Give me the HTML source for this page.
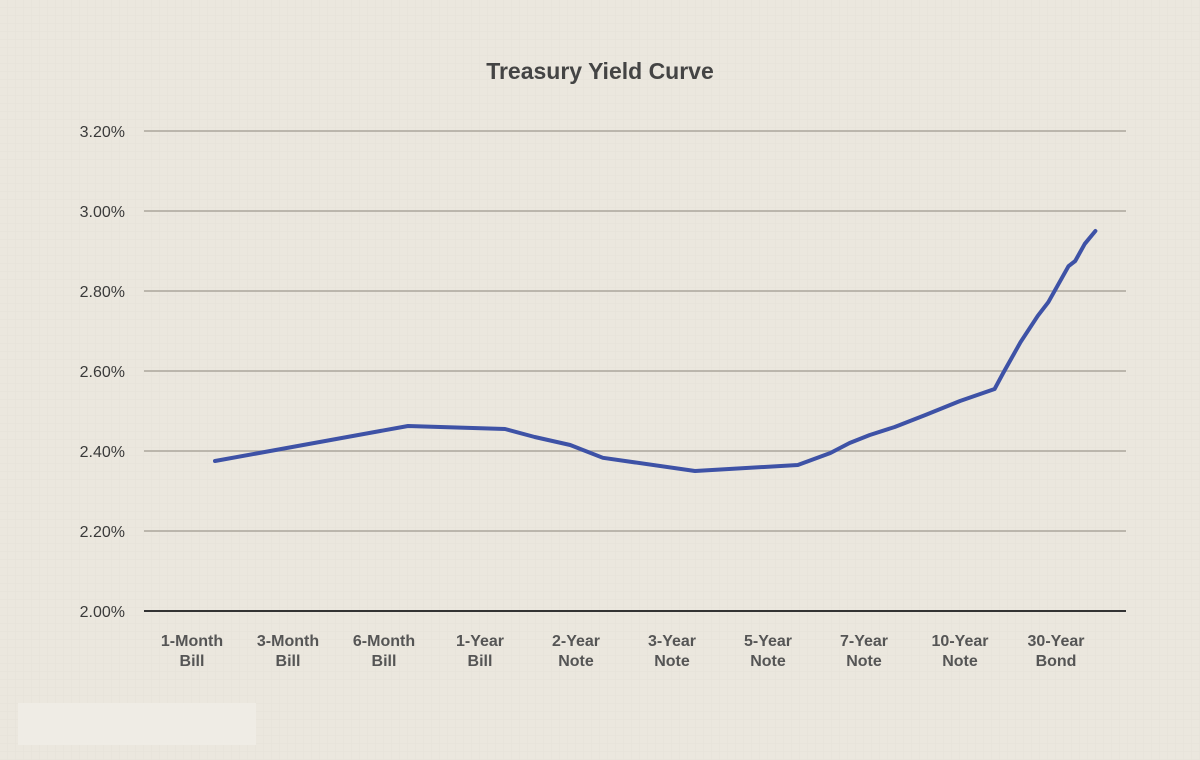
<!DOCTYPE html>
<html><head><meta charset="utf-8"><style>
body{margin:0;width:1200px;height:760px;overflow:hidden;background:#ebe7de;font-family:"Liberation Sans",sans-serif;}
svg{display:block}
</style></head><body>
<svg width="1200" height="760">
<defs><pattern id="p" width="8" height="8" patternUnits="userSpaceOnUse"><path d="M8 0V8H0" fill="none" stroke="#e2ded4" stroke-width="1"/></pattern></defs>
<rect width="1200" height="760" fill="#ebe7de"/>
<rect width="1200" height="760" fill="url(#p)" opacity="0.6"/>
<rect x="18" y="703" width="238" height="42" fill="#efece5"/>
<text x="600" y="79" text-anchor="middle" font-size="23" font-weight="bold" fill="#444">Treasury Yield Curve</text>
<g id="grid"></g><g id="xl"></g>
<path id="line" fill="none" stroke="#3e52a6" stroke-width="4" stroke-linejoin="round" stroke-linecap="round"/>
</svg>
<script>
const categories=["1-Month|Bill","3-Month|Bill","6-Month|Bill","1-Year|Bill","2-Year|Note","3-Year|Note","5-Year|Note","7-Year|Note","10-Year|Note","30-Year|Bond"];
const yTicks=[2.0,2.2,2.4,2.6,2.8,3.0,3.2];
const ptPos=[0.24,2.25,3.26,3.57,3.94,4.28,5.24,6.31,6.65,6.85,7.06,7.32,7.64,8.0,8.36,8.45,8.63,8.81,8.92,9.13,9.2,9.3,9.41];
const ptYield=[2.375,2.4625,2.455,2.435,2.415,2.383,2.35,2.365,2.395,2.42,2.44,2.46,2.49,2.525,2.555,2.595,2.672,2.738,2.772,2.862,2.875,2.918,2.950];
const NS="http://www.w3.org/2000/svg";
const X=i=>192+96*i, Y=v=>611-(v-2.0)*400;
const g=document.getElementById('grid');
yTicks.forEach(t=>{
 const l=document.createElementNS(NS,'line');
 l.setAttribute('x1',144);l.setAttribute('x2',1126);l.setAttribute('y1',Y(t));l.setAttribute('y2',Y(t));
 l.setAttribute('stroke',t===2.0?'#333':'#aba69c');l.setAttribute('stroke-width',t===2.0?2:1.4);
 
 
 g.appendChild(l);
 const tx=document.createElementNS(NS,'text');
 tx.setAttribute('x',125);tx.setAttribute('y',Y(t)+6);tx.setAttribute('text-anchor','end');
 tx.setAttribute('font-size','16');tx.setAttribute('fill','#3a3a3a');
 tx.textContent=t.toFixed(2)+'%';
 
 
 g.appendChild(tx);
});
const xl=document.getElementById('xl');
categories.forEach((c,i)=>{
 c.split('|').forEach((s,k)=>{
  const tx=document.createElementNS(NS,'text');
  tx.setAttribute('x',X(i));tx.setAttribute('y',646+k*20);tx.setAttribute('text-anchor','middle');
  tx.setAttribute('font-size','16');tx.setAttribute('font-weight','bold');tx.setAttribute('fill','#555');
  tx.textContent=s;
  
  
  xl.appendChild(tx);
 });
});
document.getElementById('line').setAttribute('d',ptPos.map((p,i)=>(i?'L':'M')+X(p).toFixed(1)+' '+Y(ptYield[i]).toFixed(1)).join(' '));
</script>
</body></html>
